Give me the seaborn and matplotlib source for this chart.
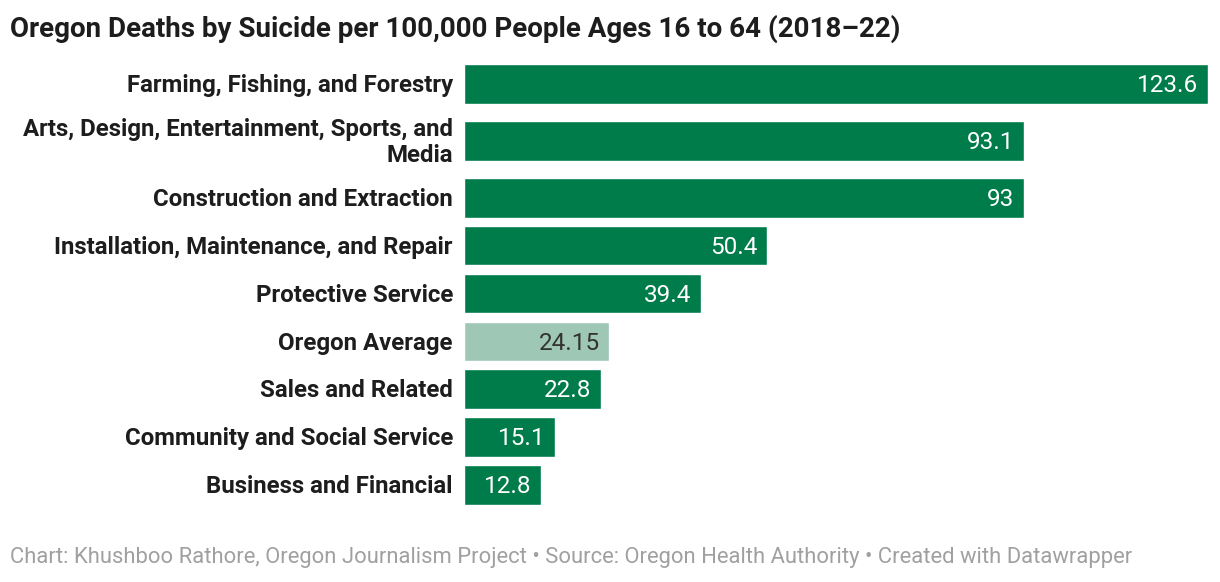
import pandas as pd
import matplotlib.pyplot as plt
import seaborn as sns

categories = [
    "Farming, Fishing, and Forestry",
    "Arts, Design, Entertainment, Sports, and\nMedia",
    "Construction and Extraction",
    "Installation, Maintenance, and Repair",
    "Protective Service",
    "Oregon Average",
    "Sales and Related",
    "Community and Social Service",
    "Business and Financial",
]
values = [123.6, 93.1, 93, 50.4, 39.4, 24.15, 22.8, 15.1, 12.8]
value_labels = ["123.6", "93.1", "93", "50.4", "39.4", "24.15", "22.8", "15.1", "12.8"]
highlight = "Oregon Average"

DARK = "#007c4a"
LIGHT = "#9fc7b5"

sns.set_style("white")
plt.rcParams["font.family"] = ["Roboto", "DejaVu Sans"]

# row positions: multi-line labels get a taller row, like Datawrapper does
pos = []
y = 0.0
for i, c in enumerate(categories):
    extra = 0.375 * c.count("\n")
    if i > 0:
        y += 1.0
    y += extra / 2
    pos.append(y)
    y += extra / 2

df = pd.DataFrame({"cat": categories, "value": values, "pos": pos})
df["kind"] = ["avg" if c == highlight else "job" for c in categories]

fig = plt.figure(figsize=(12.2, 5.82), dpi=100)
ax = fig.add_axes([464 / 1220, 1 - 505 / 582, (1208 - 464) / 1220, (505 - 64) / 582])

sns.barplot(data=df, x="value", y="pos", hue="kind", orient="h", native_scale=True,
            palette={"job": DARK, "avg": LIGHT}, width=0.83, legend=False,
            saturation=1, ax=ax)

ax.set_xlim(0, max(values))
ax.set_ylim(pos[-1] + 0.415, pos[0] - 0.415)
ax.set_xticks([])
ax.set_yticks([])
ax.set_xlabel("")
ax.set_ylabel("")
sns.despine(ax=ax, left=True, bottom=True)

for p, v, lab, c in zip(pos, values, value_labels, categories):
    col = "#333333" if c == highlight else "white"
    ax.annotate(lab, (v, p), xytext=(-7, -1.2), textcoords="offset points",
                ha="right", va="center", fontsize=17.5, color=col)
    ax.annotate(c, (0, p), xytext=(-8, -1.2), textcoords="offset points",
                ha="right", va="center", fontsize=17.3, fontweight="bold",
                color="#1d1d1d", linespacing=1.2, annotation_clip=False)

fig.text(10 / 1220, 1 - 29 / 582, "Oregon Deaths by Suicide per 100,000 People Ages 16 to 64 (2018\u201322)",
         ha="left", va="center", fontsize=20, fontweight="bold", color="#1d1d1d")
fig.text(10 / 1220, 1 - 558 / 582,
         "Chart: Khushboo Rathore, Oregon Journalism Project \u2022 Source: Oregon Health Authority \u2022 Created with Datawrapper",
         ha="left", va="center", fontsize=15.8, color="#a0a0a0")

fig.savefig("out.png", dpi=100, facecolor="white")
